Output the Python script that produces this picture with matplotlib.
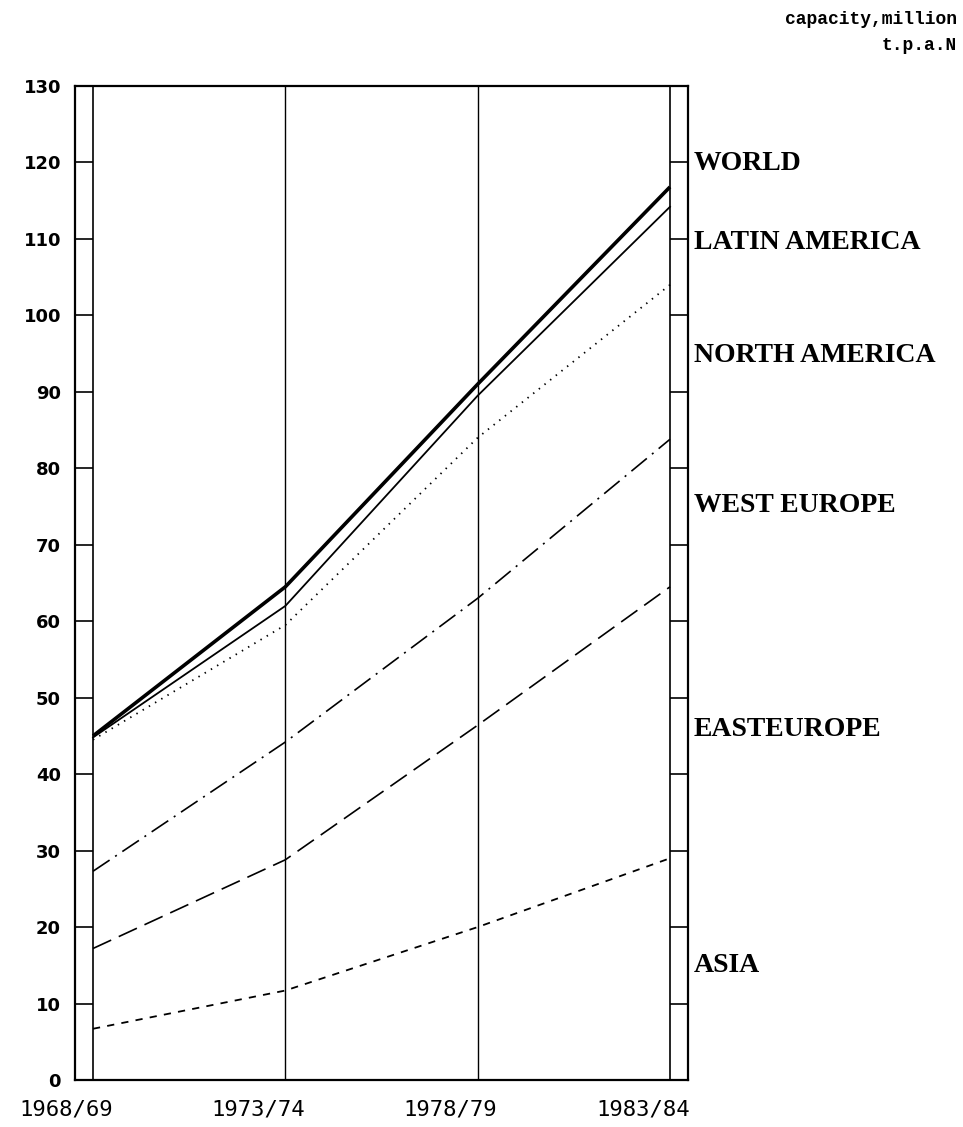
import matplotlib
matplotlib.use("Agg")
import matplotlib.pyplot as plt
import matplotlib.transforms as mtransforms

# ---- data ----
periods = ["1968/69", "1973/74", "1978/79", "1983/84"]
world = [45.0, 64.5, 91.0, 116.8]
latin_america = [44.8, 62.0, 89.5, 114.2]
north_america = [44.5, 59.5, 84.0, 104.0]
west_europe = [27.3, 44.2, 63.0, 83.8]
east_europe = [17.2, 28.8, 46.4, 64.5]
asia = [6.7, 11.7, 20.0, 29.0]
y_ticks = list(range(0, 131, 10))
series_names = ["WORLD", "LATIN AMERICA", "NORTH AMERICA", "WEST EUROPE", "EASTEUROPE", "ASIA"]

# ---- layout ----
label_y = [119.8, 109.5, 94.8, 75.2, 45.8, 15.0]
W, H = 963, 1127
fig = plt.figure(figsize=(W / 100, H / 100), dpi=100)
ax_left, ax_right, ax_top, ax_bot = 75, 688, 86, 1080
ax = fig.add_axes([ax_left / W, 1 - ax_bot / H, (ax_right - ax_left) / W, (ax_bot - ax_top) / H])

x = list(range(len(periods)))
unit = (670 - 93) / 3.0
pad = 18 / unit
ax.set_xlim(-pad, 3 + pad)
ax.set_ylim(0, 130)

# frame strips
for s in ax.spines.values():
    s.set_linewidth(1.6)
for xv in x:
    ax.axvline(xv, color="black", lw=1.2 if xv in (0, 3) else 1.0, zorder=1)
for yv in y_ticks[1:-1]:
    ax.plot([-pad, 0], [yv, yv], color="black", lw=1.2, solid_capstyle="butt", clip_on=False)
    ax.plot([3, 3 + pad], [yv, yv], color="black", lw=1.2, solid_capstyle="butt", clip_on=False)

# series
ax.plot(x, world, color="black", lw=2.6, solid_capstyle="butt")
ax.plot(x, latin_america, color="black", lw=1.3)
ax.plot(x, north_america, color="black", lw=1.3, linestyle=(0, (0.8, 3.2)))
ax.plot(x, west_europe, color="black", lw=1.2, linestyle=(0, (12, 4, 1.2, 4)))
ax.plot(x, east_europe, color="black", lw=1.2, linestyle=(0, (12, 5)))
ax.plot(x, asia, color="black", lw=1.3, linestyle=(0, (4, 4)))

# y tick labels
ax.set_yticks(y_ticks)
ax.set_yticklabels([str(v) for v in y_ticks], fontsize=13, family="DejaVu Sans", fontweight="bold")
ax.tick_params(axis="y", length=0, pad=10)

# x tick labels
ax.set_xticks(x)
ax.set_xticklabels(periods, fontsize=16, family="DejaVu Sans Mono")
ax.tick_params(axis="x", length=0, pad=14)
offset = mtransforms.ScaledTranslation(-27 / 100, 0, fig.dpi_scale_trans)
for lbl in ax.get_xticklabels():
    lbl.set_transform(lbl.get_transform() + offset)

# right labels
for name, yv in zip(series_names, label_y):
    ax.text(3 + pad + 6 / unit, yv, name, ha="left", va="center", fontsize=20,
            family="Liberation Serif", fontweight="bold", clip_on=False)

# unit caption
fig.text(957 / W, 1 - 20 / H, "capacity,million", ha="right", va="center",
         fontsize=13, family="Liberation Mono", fontweight="bold")
fig.text(957 / W, 1 - 45 / H, "t.p.a.N", ha="right", va="center",
         fontsize=13, family="Liberation Mono", fontweight="bold")

fig.savefig("out.png", dpi=100)
